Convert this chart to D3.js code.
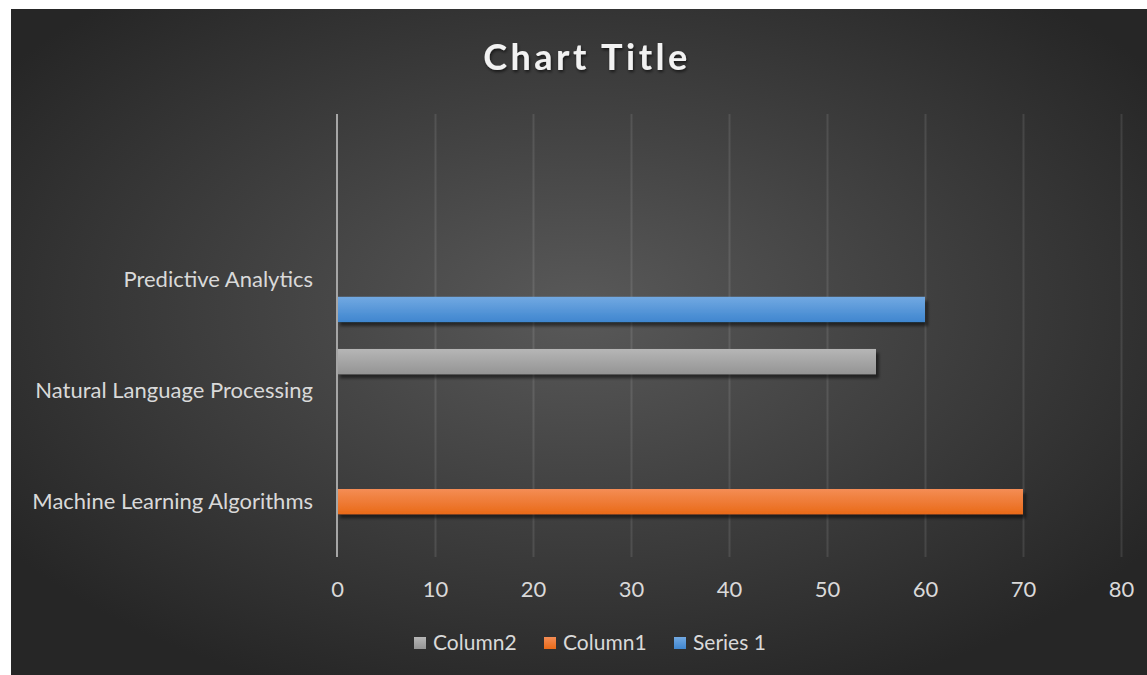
<!DOCTYPE html>
<html>
<head>
<meta charset="utf-8">
<script src="https://cdn.jsdelivr.net/npm/d3@7"></script>
<style>
  body { margin: 0; background: #fff; }
  svg { display: block; }
</style>
</head>
<body>
<div class="canvas"></div>
<script>
// Data (top category is an empty one, as in the source sheet)
const categories = ['Machine Learning Algorithms', 'Natural Language Processing', 'Predictive Analytics', '']
const seriesNames = ['Series 1', 'Column1', 'Column2']
const series1 = [null, null, 60, null]
const column1 = [70, null, null, null]
const column2 = [null, 55, null, null]
const xTicks = [0, 10, 20, 30, 40, 50, 60, 70, 80]
const legendOrder = ['Column2', 'Column1', 'Series 1']

const colors = {
  'Series 1': ['#72a9e2', '#3f86cf'],
  'Column1': ['#f48d55', '#e96a18'],
  'Column2': ['#b6b6b6', '#949494']
}

const font = 'Lato, "Open Sans", sans-serif'
const W = 1147, H = 675
const margin = { top: 114, left: 337 }
const graphWidth = 1121 - margin.left
const graphHeight = 557 - margin.top

const svg = d3.select('.canvas').append('svg')
  .attr('width', W).attr('height', H)

const defs = svg.append('defs')
const bg = defs.append('radialGradient').attr('id', 'bg')
  .attr('cx', '50%').attr('cy', '45%').attr('r', '62%')
bg.append('stop').attr('offset', '0%').attr('stop-color', '#595959')
bg.append('stop').attr('offset', '100%').attr('stop-color', '#262626')

Object.keys(colors).forEach((k, i) => {
  const g = defs.append('linearGradient').attr('id', 'grad' + i)
    .attr('x1', 0).attr('y1', 0).attr('x2', 0).attr('y2', 1)
  g.append('stop').attr('offset', '0%').attr('stop-color', colors[k][0])
  g.append('stop').attr('offset', '100%').attr('stop-color', colors[k][1])
})
const gradId = k => 'url(#grad' + Object.keys(colors).indexOf(k) + ')'

const shadow = defs.append('filter').attr('id', 'shadow')
  .attr('x', '-5%').attr('y', '-30%').attr('width', '115%').attr('height', '180%')
shadow.append('feDropShadow').attr('dx', 3).attr('dy', 4)
  .attr('stdDeviation', 1.5).attr('flood-color', '#000').attr('flood-opacity', 0.5)

const tshadow = defs.append('filter').attr('id', 'tshadow')
tshadow.append('feDropShadow').attr('dx', 1).attr('dy', 2)
  .attr('stdDeviation', 1.5).attr('flood-color', '#000').attr('flood-opacity', 0.6)

// chart area background
svg.append('rect')
  .attr('x', 11).attr('y', 9).attr('width', W - 11).attr('height', H - 9)
  .attr('fill', 'url(#bg)')

// title
svg.append('text')
  .attr('x', 587).attr('y', 69.5)
  .attr('text-anchor', 'middle')
  .attr('font-family', font)
  .attr('font-weight', 'bold')
  .attr('font-size', 36)
  .attr('letter-spacing', 3.5)
  .attr('fill', '#f2f2f2')
  .attr('filter', 'url(#tshadow)')
  .text('Chart Title')

const graph = svg.append('g')
  .attr('transform', `translate(${margin.left},${margin.top})`)

// Scales
const x = d3.scaleLinear().domain([0, 80]).range([0, graphWidth])
const y0 = d3.scaleBand().domain(categories.slice().reverse()).range([0, graphHeight]).padding(0)
const y1 = d3.scaleBand().domain(['Column2', 'Column1', 'Series 1'])
  .range([0, y0.bandwidth()]).paddingInner(0.137).paddingOuter(0.46)

// gridlines
const grid = graph.append('g')
  .call(d3.axisBottom(x).tickValues(xTicks.slice(1)).tickSize(graphHeight).tickFormat(''))
grid.select('.domain').remove()
grid.selectAll('line').attr('stroke', '#ffffff').attr('stroke-opacity', 0.1).attr('stroke-width', 2)

// bars
const rows = []
categories.forEach((c, i) => {
  const vals = { 'Series 1': series1[i], 'Column1': column1[i], 'Column2': column2[i] }
  seriesNames.forEach(s => {
    if (vals[s] != null) rows.push({ cat: c, series: s, value: vals[s] })
  })
})

graph.selectAll('rect.bar').data(rows).enter()
  .append('rect')
  .attr('class', 'bar')
  .attr('x', x(0))
  .attr('y', d => y0(d.cat) + y1(d.series))
  .attr('width', d => x(d.value) - x(0))
  .attr('height', y1.bandwidth())
  .attr('fill', d => gradId(d.series))
  .attr('filter', 'url(#shadow)')

// value axis line at 0
graph.append('line')
  .attr('x1', x(0)).attr('x2', x(0))
  .attr('y1', 0).attr('y2', graphHeight)
  .attr('stroke', '#a6a6a6').attr('stroke-width', 2)

// x axis labels
const xAxisGroup = graph.append('g')
  .attr('transform', `translate(0, ${graphHeight})`)
  .call(d3.axisBottom(x).tickValues(xTicks).tickSize(0).tickPadding(0))
xAxisGroup.select('.domain').remove()
xAxisGroup.selectAll('text')
  .attr('y', 40).attr('dy', null)
  .attr('font-family', font).attr('font-size', 22)
  .attr('fill', '#d9d9d9')

// y axis labels
const yAxisGroup = graph.append('g')
  .call(d3.axisLeft(y0).tickSize(0).tickPadding(24))
yAxisGroup.select('.domain').remove()
yAxisGroup.selectAll('text')
  .attr('font-family', font).attr('font-size', 22)
  .attr('fill', '#d9d9d9')

// legend
const legendX = [414, 544, 674]
const legend = svg.append('g')
legendOrder.forEach((s, i) => {
  legend.append('rect')
    .attr('x', legendX[i]).attr('y', 637).attr('width', 12).attr('height', 12)
    .attr('fill', gradId(s))
  legend.append('text')
    .attr('x', legendX[i] + 19).attr('y', 650)
    .attr('font-family', font).attr('font-size', 21)
    .attr('fill', '#d9d9d9')
    .text(s)
})
</script>
</body>
</html>
